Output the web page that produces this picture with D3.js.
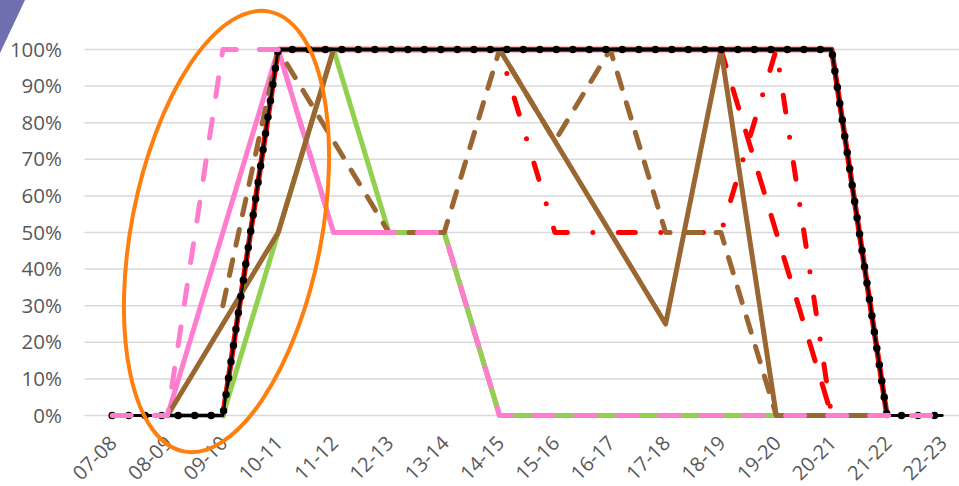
<!DOCTYPE html>
<html><head><meta charset="utf-8">
<script src="https://cdn.jsdelivr.net/npm/d3@7"></script>
<style>body{margin:0;background:#fff;overflow:hidden}svg{display:block}</style>
</head><body>
<svg id="c" width="959" height="486"></svg>
<script>
const categories = ["07-08","08-09","09-10","10-11","11-12","12-13","13-14","14-15","15-16","16-17","17-18","18-19","19-20","20-21","21-22","22-23"];
const yTicks = [0,10,20,30,40,50,60,70,80,90,100];
const pinkSolid  = [null,0,50,100,50,50,50,0,0,0,0,0,0,0,0,null];
const redSolid   = [null,null,0,100,100,100,100,100,100,100,100,100,100,100,0,null];
const green      = [null,0,0,50,100,50,50,0,0,0,0,0,0,0,0,null];
const redDashDot = [null,null,null,100,100,100,100,100,50,50,50,50,100,0,0,null];
const redDash    = [null,null,null,100,100,100,100,100,100,100,100,100,50,0,0,null];
const brownSolid = [null,0,25,50,100,100,100,100,75,50,25,100,0,0,0,null];
const brownDash  = [null,null,30,100,75,50,50,100,75,100,50,50,0,0,0,null];
const black      = [0,0,0,100,100,100,100,100,100,100,100,100,100,100,0,0];
const pinkDash   = [0,0,100,100,50,50,50,0,0,0,0,0,0,0,0,0];

const svg = d3.select("#c");
const x = d3.scaleBand().domain(categories).range([84.5, 970]);
const cx = c => x(c) + x.bandwidth()/2;
const y = d3.scaleLinear().domain([0,100]).range([415.5, 49.5]);
const font = "'Open Sans', 'Noto Sans', sans-serif";

// corner decoration
svg.append("path").attr("d","M0,0L25,0L0,53Z").attr("fill","#7070b0");

// gridlines
svg.append("g").selectAll("line").data(yTicks).join("line")
  .attr("x1",84.5).attr("x2",970).attr("y1",d=>y(d)).attr("y2",d=>y(d))
  .attr("stroke","#d9d9d9").attr("stroke-width",1.5);

// y labels
const yAxis = d3.axisLeft(y).tickValues(yTicks).tickFormat(d=>d+"%").tickSize(0).tickPadding(0);
const ya = svg.append("g").attr("transform","translate(62,0)").call(yAxis);
ya.select(".domain").remove();
ya.selectAll("text").attr("font-family",font).attr("font-size",20.5).attr("fill","#595959");

// x labels
const xa = svg.append("g").attr("transform","translate(0,415.5)")
  .call(d3.axisBottom(x).tickSize(0).tickPadding(0));
xa.select(".domain").remove();
xa.selectAll("text").attr("font-family",font).attr("font-size",20).attr("fill","#595959")
  .attr("text-anchor","end").attr("dy",0)
  .attr("transform","translate(6,29) rotate(-45)");

const line = d3.line().defined(d=>d!=null).x((d,i)=>cx(categories[i])).y(d=>y(d));
function draw(data, color, w, dash, cap){
  svg.append("path").attr("d",line(data)).attr("fill","none")
    .attr("stroke",color).attr("stroke-width",w)
    .attr("stroke-dasharray",dash||null)
    .attr("stroke-linecap",cap||"round").attr("stroke-linejoin","round");
}
draw(pinkSolid,"#ff7dcf",5);
draw(redSolid,"#ff0000",5.5);
draw(green,"#92d050",5);
draw(redDashDot,"#ff0000",5,"17,25.5,0,25.5");
draw(redDash,"#ff0000",5,"20,24");
draw(brownSolid,"#9a6632",5);
draw(brownDash,"#9a6632",5,"16,15");
draw(black,"#000000",2.8);
draw(black,"#000000",7.5,"0,16.5");
draw(pinkDash,"#ff7dcf",5,"19,23");

// annotation ellipse
svg.append("ellipse").attr("cx",226.5).attr("cy",231.5).attr("rx",95).attr("ry",224)
  .attr("transform","rotate(11,226.5,231.5)")
  .attr("fill","none").attr("stroke","#ff7f0e").attr("stroke-width",4);
</script>
</body></html>
